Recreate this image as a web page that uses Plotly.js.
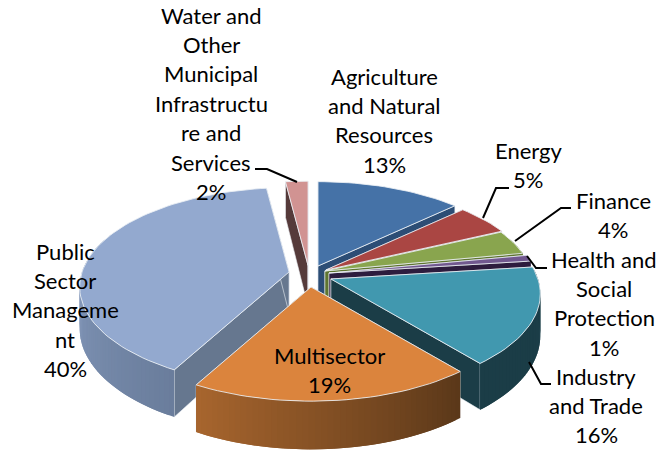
<!DOCTYPE html>
<html><head><meta charset="utf-8">
<script src="https://cdn.plot.ly/plotly-3.0.1.min.js"></script>
<style>html,body{margin:0;padding:0;background:#fff}#c{width:659px;height:451px}</style>
</head><body><div id="c"></div>
<script>
var categories = ["Agriculture and Natural Resources","Energy","Finance","Health and Social Protection","Industry and Trade","Multisector","Public Sector Management","Water and Other Municipal Infrastructure and Services"];
var values = [13,5,4,1,16,19,40,2];
var explode = [0.0705,0.075,0.068,0.0875,0.12,0.155,0.106,0.0685];
var explodeDir = [28.7,74,81,96.8,126.7,180,270,348];
var topColors = ["#4572a7","#aa4643","#89a54e","#71588f","#4198af","#db843d","#93a9cf","#d19392"];
var wallNear = ["#2c4d75","#772c2a","#5f7530","#2d1c3e","#1b3d47","#5a3719","#6a7d9c","#553a3a"];
var wallFar  = ["#2c4d75","#772c2a","#5f7530","#2d1c3e","#1b3d47","#a8652e","#8499bb","#553a3a"];
var sideColors = ["#2c4d75","#772c2a","#5f7530","#2d1c3e","#1b3d47","#5a3719","#66778f","#553a3a"];
var labelLines = [
 ["Agriculture","and Natural","Resources","13%"],
 ["Energy","5%"],
 ["Finance","4%"],
 ["Health and","Social","Protection","1%"],
 ["Industry","and Trade","16%"],
 ["Multisector","19%"],
 ["Public","Sector","Manageme","nt","40%"],
 ["Water and","Other","Municipal","Infrastructu","re and","Services","2%"]
];
var labelX = [384,528,613,604,596,329,65,211];
var labelY = [76,150,200,259,376,355,251,15];
var leaders = [
 "M255,169 L267,169 L297,182",
 "M509,188 L496,188 L483,218",
 "M571,208 L561,208 L515,241",
 "M547,268 L536,268 L527,256",
 "M551,384 L541,384 L529,362"
];

var CX=311, CY=272, R=207, RT=97, K=0.15, H=41, LINE=29.4;
var total=values.reduce(function(a,b){return a+b},0);
function rad(d){return d*Math.PI/180}
function w(z){return 1/(1+K*z)}
var traces=[];
function poly(xs,ys,fill,line,lw){
  traces.push({type:"scatter",mode:"lines",x:xs.concat(xs[0]),y:ys.concat(ys[0]),fill:"toself",
    fillcolor:fill,line:{color:line,width:lw},hoverinfo:"skip",showlegend:false});
}
function hex(c){return [parseInt(c.substr(1,2),16),parseInt(c.substr(3,2),16),parseInt(c.substr(5,2),16)]}
function mix(a,b,t){var A=hex(a),B=hex(b);return "rgb("+[0,1,2].map(function(i){return Math.round(A[i]+(B[i]-A[i])*t)}).join(",")+")"}

var slices=[],acc=0;
values.forEach(function(v,i){
  var a0=acc/total*360; acc+=v; var a1=acc/total*360, m=(a0+a1)/2;
  var ax=CX+Math.sin(rad(explodeDir[i]))*explode[i]*R, ay=CY-Math.cos(rad(explodeDir[i]))*explode[i]*RT;
  slices.push({i:i,a0:a0,a1:a1,m:m,ax:ax,ay:ay});
});
function pt(s,a){var X=Math.sin(rad(a)),Z=Math.cos(rad(a));
  return {x:s.ax+R*X*w(Z),y:s.ay-RT*Z*w(Z),h:H*w(Z)};}
function radial(s,a,color){
  var p=pt(s,a);
  poly([s.ax,p.x,p.x,s.ax],[s.ay,p.y,p.y+p.h,s.ay+H],color,"rgba(235,240,245,0.75)",0.8);
}
slices.slice().sort(function(p,q){return Math.cos(rad(q.m))-Math.cos(rad(p.m))}).forEach(function(s){
  var i=s.i;
  radial(s,s.a0,sideColors[i]); radial(s,s.a1,sideColors[i]);
  var step=1.5,n=Math.max(1,Math.ceil((s.a1-s.a0)/step)),db=(s.a1-s.a0)/n;
  for(var k=0;k<n;k++){
    var b0=s.a0+db*k,b1=Math.min(s.a1,s.a0+db*(k+2));
    if(Math.cos(rad(b0+db/2))>0.35) continue;
    var p=pt(s,b0),q=pt(s,b1),c=mix(wallNear[i],wallFar[i],(k+0.5)/n);
    if(i==6) c=mix(wallNear[i],wallFar[i],Math.min(1,(k+0.5)/(n*0.45)));
    poly([p.x,q.x,q.x,p.x],[p.y,q.y,q.y+q.h,p.y+p.h],c,"rgba(0,0,0,0)",0);
  }
  var xs=[s.ax],ys=[s.ay],m=Math.max(2,Math.ceil((s.a1-s.a0)/2));
  for(var j=0;j<=m;j++){var t=pt(s,s.a0+(s.a1-s.a0)*j/m);xs.push(t.x);ys.push(t.y);}
  poly(xs,ys,topColors[i],"rgba(235,240,245,0.85)",1);
});

var annotations=[];
labelLines.forEach(function(lines,i){
  lines.forEach(function(t,j){
    annotations.push({x:labelX[i],y:labelY[i]+j*LINE,xref:"x",yref:"y",text:t,showarrow:false,
      xanchor:"center",yanchor:"middle",font:{family:"Lato, sans-serif",size:22,color:"#000"}});
  });
});
var shapes=leaders.map(function(p){return {type:"path",path:p,xref:"x",yref:"y",line:{color:"#000",width:2}}});
var axis={visible:false,fixedrange:true,showgrid:false,zeroline:false};
Plotly.newPlot("c",traces,{
  width:659,height:451,margin:{l:0,r:0,t:0,b:0},paper_bgcolor:"#fff",plot_bgcolor:"#fff",showlegend:false,
  xaxis:Object.assign({range:[0,659]},axis),
  yaxis:Object.assign({range:[451,0]},axis),
  annotations:annotations,shapes:shapes
},{displayModeBar:false,staticPlot:true});
</script></body></html>
